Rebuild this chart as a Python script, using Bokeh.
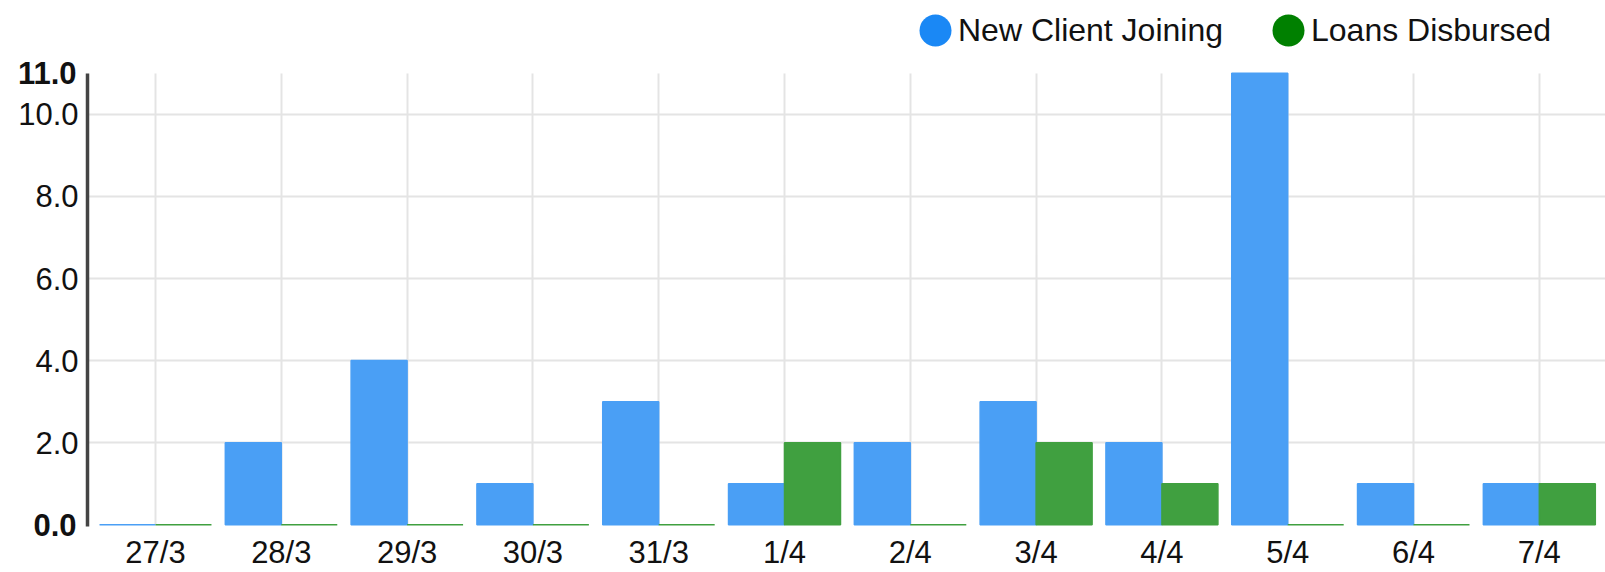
from bokeh.plotting import figure
from bokeh.models import (Range1d, FixedTicker, PrintfTickFormatter, Legend,
                          LegendItem, LinearAxis, ColumnDataSource)
from bokeh.transform import dodge
from bokeh.embed import file_html
from bokeh.resources import INLINE

# ---- data ----
dates = ["27/3", "28/3", "29/3", "30/3", "31/3", "1/4", "2/4", "3/4",
         "4/4", "5/4", "6/4", "7/4"]
new_clients = [0, 2, 4, 1, 3, 1, 2, 3, 2, 11, 1, 1]
loans_disbursed = [0, 0, 0, 0, 0, 2, 0, 2, 1, 0, 0, 1]
series_names = ["New Client Joining", "Loans Disbursed"]
y_ticks = [2, 4, 6, 8, 10]
y_bold_ticks = [0, 11]
y_max = 11

# ---- styles ----
BAR_BLUE = "#4a9ff5"
BAR_GREEN = "#40a040"
LEG_BLUE = "#1a88f5"
LEG_GREEN = "#008000"
FONT = "Liberation Sans"
TXT = "#111111"
TICK_FS = "31px"
BAR_W = 0.445
X_START, X_END = -0.5405, 11.526
Y_START, Y_END = -0.04, 12.771

pos = list(range(len(dates)))
src = ColumnDataSource(dict(x=pos, new=new_clients, loans=loans_disbursed))

p = figure(width=1605, height=572,
           x_range=Range1d(X_START, X_END), y_range=Range1d(Y_START, Y_END),
           output_backend="svg", toolbar_location=None,
           min_border_left=87, min_border_right=0,
           min_border_top=0, min_border_bottom=44)
p.outline_line_color = None
p.background_fill_color = "white"

p.vbar(x=dodge("x", -BAR_W / 2, range=p.x_range), top="new", width=BAR_W,
       source=src, fill_color=BAR_BLUE, line_color=BAR_BLUE, line_width=1.5)
p.vbar(x=dodge("x", BAR_W / 2, range=p.x_range), top="loans", width=BAR_W,
       source=src, fill_color=BAR_GREEN, line_color=BAR_GREEN, line_width=1.5)

# legend swatches: sub-pixel ellipses (invisible on the chart), drawn round in the legend
r1 = p.ellipse(x="x", y="new", width=0.001, height=0.001, width_units="screen",
               height_units="screen", source=src,
               fill_color=LEG_BLUE, line_color=None)
r2 = p.ellipse(x="x", y="loans", width=0.001, height=0.001, width_units="screen",
               height_units="screen", source=src,
               fill_color=LEG_GREEN, line_color=None)
legend = Legend(items=[LegendItem(label=series_names[0], renderers=[r1]),
                       LegendItem(label=series_names[1], renderers=[r2])],
                orientation="horizontal", location=(828, 476),
                glyph_width=40, glyph_height=40, label_standoff=3,
                spacing=45, padding=0, margin=0,
                border_line_color=None, background_fill_alpha=0,
                label_text_font=FONT, label_text_font_size="32px",
                label_text_color=TXT)
legend.click_policy = "none"
p.add_layout(legend)

# x axis
xa = p.xaxis[0]
xa.ticker = FixedTicker(ticks=pos)
xa.major_label_overrides = {i: d for i, d in zip(pos, dates)}
xa.axis_line_color = None
xa.major_tick_line_color = None
xa.major_tick_out = 0
xa.minor_tick_line_color = None
xa.major_label_standoff = 8
xa.major_label_text_font = FONT
xa.major_label_text_font_size = TICK_FS
xa.major_label_text_color = TXT

# y axis (normal labels)
ya = p.yaxis[0]
ya.ticker = FixedTicker(ticks=y_ticks)
ya.formatter = PrintfTickFormatter(format="%.1f")
ya.bounds = (Y_START, y_max)
ya.axis_line_color = "#444444"
ya.axis_line_width = 3.5
ya.major_tick_line_color = None
ya.major_tick_out = 0
ya.major_tick_in = 0
ya.minor_tick_line_color = None
ya.major_label_standoff = 9
ya.major_label_text_font = FONT
ya.major_label_text_font_size = TICK_FS
ya.major_label_text_color = TXT

# y axis (bold end labels), pulled next to the first axis
yb = LinearAxis(ticker=FixedTicker(ticks=y_bold_ticks),
                formatter=PrintfTickFormatter(format="%.1f"),
                axis_line_color=None, major_tick_line_color=None,
                minor_tick_line_color=None, major_tick_out=0, major_tick_in=0,
                major_label_standoff=-61,
                major_label_text_font=FONT, major_label_text_font_size=TICK_FS,
                major_label_text_font_style="bold", major_label_text_color=TXT)
p.add_layout(yb, "left")

# grids
p.xgrid.grid_line_color = "#e4e4e4"
p.xgrid.grid_line_width = 2
p.xgrid.cross_bounds = (0, y_max)
p.ygrid.grid_line_color = "#e4e4e4"
p.ygrid.grid_line_width = 2

open("out.html", "w").write(file_html(p, INLINE))
